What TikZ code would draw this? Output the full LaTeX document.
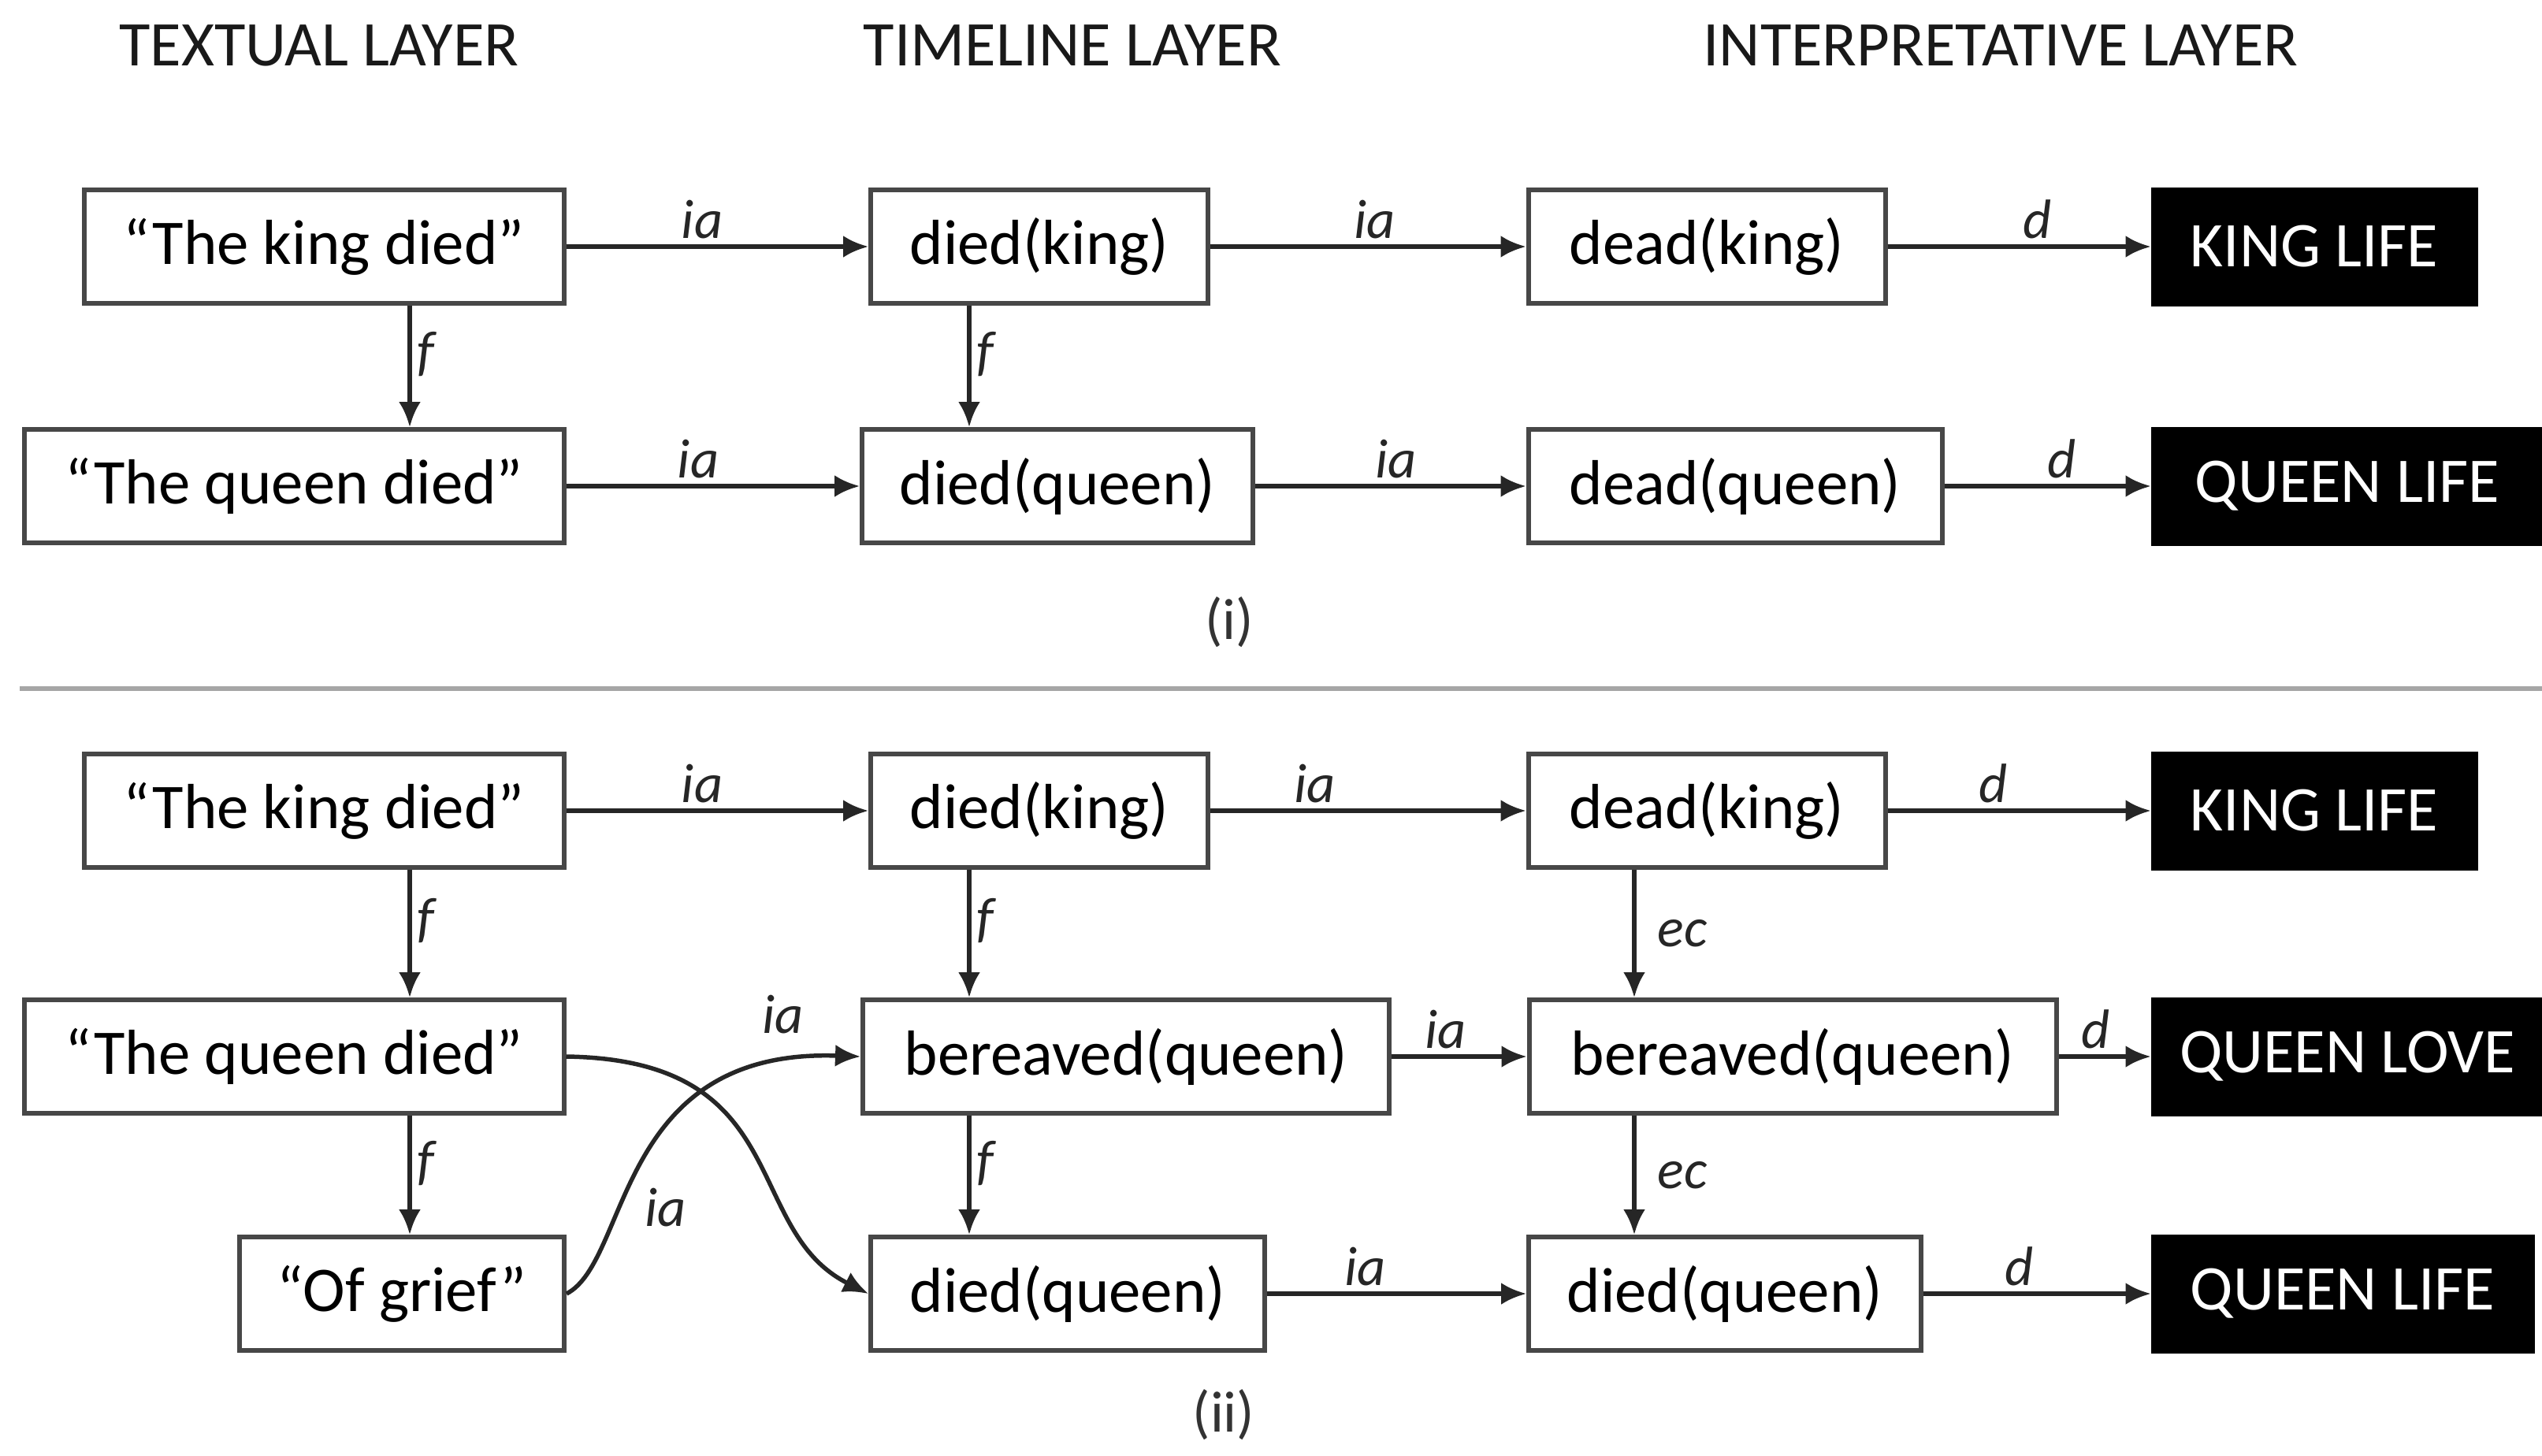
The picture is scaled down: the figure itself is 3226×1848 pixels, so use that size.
\documentclass[tikz,border=0pt]{standalone}
\usepackage{fontspec}
\setmainfont{Carlito}
\usetikzlibrary{arrows.meta}
\newcommand\boxfont{\fontsize{23}{27}\selectfont}
\newcommand\lblfont{\fontsize{20}{24}\selectfont\itshape}
\newcommand\headfont{\fontsize{23}{27}\selectfont}
\newcommand\captfont{\fontsize{21}{25}\selectfont}
\tikzset{
  box/.style={draw=black!72, line width=0.6mm, fill=white, minimum height=14.4mm, inner sep=0pt, font=\boxfont},
  dark/.style={draw=black, fill=black, text=white, line width=0.5mm, minimum height=14.6mm, inner sep=0pt, font=\boxfont},
  arr/.style={-{Latex[length=3.2mm,width=2.8mm]}, line width=0.55mm, draw=black!85},
  lbl/.style={font=\lblfont, inner sep=2pt, text=black!85},
  head/.style={font=\headfont, text=black!90},
  capt/.style={font=\captfont, text=black!80},
}
\begin{document}
\begin{tikzpicture}[x=0.1mm,y=-0.1mm]
\useasboundingbox (0,0) rectangle (3226,1848);
% headings
\node[head] (h1) at (405,58) {TEXTUAL LAYER};
\node[head] (h2) at (1361,58) {TIMELINE LAYER};
\node[head] (h3) at (2539,58) {INTERPRETATIVE LAYER};
% column x for vertical arrows
\coordinate (xa) at (520,0);
\coordinate (xb) at (1230,0);
\coordinate (xc) at (2074,0);
% ---- panel (i)
\node[box, minimum width=60.9mm] (A1) at (411,313) {``The king died''};
\node[box, minimum width=42.8mm] (B1) at (1319,313) {died(king)};
\node[box, minimum width=45.3mm] (C1) at (2166,313) {dead(king)};
\node[dark, minimum width=41.0mm] (D1) at (2937,313) {KING LIFE};
\node[box, minimum width=68.5mm] (A2) at (373,617) {``The queen died''};
\node[box, minimum width=49.6mm] (B2) at (1342,617) {died(queen)};
\node[box, minimum width=52.5mm] (C2) at (2202,617) {dead(queen)};
\node[dark, minimum width=49.4mm] (D2) at (2979,617) {QUEEN LIFE};
\draw[arr] (A1) -- node[lbl, above, pos=.45] (l1) {ia} (B1);
\draw[arr] (B1) -- node[lbl, above, pos=.52] (l2) {ia} (C1);
\draw[arr] (C1) -- node[lbl, above, pos=.57] (l3) {d} (D1);
\draw[arr] (A2) -- node[lbl, above, pos=.45] (l4) {ia} (B2);
\draw[arr] (B2) -- node[lbl, above, pos=.52] (l5) {ia} (C2);
\draw[arr] (C2) -- node[lbl, above, pos=.57] (l6) {d} (D2);
\draw[arr] (A1.south -| xa) -- node[lbl, right, pos=.4] (l7) {f} (A2.north -| xa);
\draw[arr] (B1.south -| xb) -- node[lbl, right, pos=.4] (l8) {f} (B2.north -| xb);
\node[capt] (cap1) at (1560,790) {(i)};
% separator
\draw[line width=0.6mm, black!35] (25,874) coordinate (s1) -- (3226,874) coordinate (s2);
% ---- panel (ii)
\node[box, minimum width=60.9mm] (A3) at (411,1029) {``The king died''};
\node[box, minimum width=42.8mm] (B3) at (1319,1029) {died(king)};
\node[box, minimum width=45.3mm] (C3) at (2166,1029) {dead(king)};
\node[dark, minimum width=41.0mm] (D3) at (2937,1029) {KING LIFE};
\node[box, minimum width=68.5mm] (A4) at (373,1341) {``The queen died''};
\node[box, minimum width=66.8mm] (B4) at (1429,1341) {bereaved(queen)};
\node[box, minimum width=66.9mm] (C4) at (2275,1341) {bereaved(queen)};
\node[dark, minimum width=49.4mm] (D4) at (2979,1341) {QUEEN LOVE};
\node[box, minimum width=41.2mm] (A5) at (510,1642) {``Of grief''};
\node[box, minimum width=50.0mm] (B5) at (1355,1642) {died(queen)};
\node[box, minimum width=49.8mm] (C5) at (2189,1642) {died(queen)};
\node[dark, minimum width=48.2mm] (D5) at (2973,1642) {QUEEN LIFE};
\draw[arr] (A3) -- node[lbl, above, pos=.45] (m1) {ia} (B3);
\draw[arr] (B3) -- node[lbl, above, pos=.33] (m2) {ia} (C3);
\draw[arr] (C3) -- node[lbl, above, pos=.4] (m3) {d} (D3);
\draw[arr] (B4) -- node[lbl, above, pos=.4] (m4) {ia} (C4);
\draw[arr] (C4) -- node[lbl, above, pos=.4] (m5) {d} (D4);
\draw[arr] (B5) -- node[lbl, above, pos=.38] (m6) {ia} (C5);
\draw[arr] (C5) -- node[lbl, above, pos=.42] (m7) {d} (D5);
\draw[arr] (A3.south -| xa) -- node[lbl, right, pos=.4] (m8) {f} (A4.north -| xa);
\draw[arr] (A4.south -| xa) -- node[lbl, right, pos=.4] (m9) {f} (A5.north -| xa);
\draw[arr] (B3.south -| xb) -- node[lbl, right, pos=.4] (m10) {f} (B4.north -| xb);
\draw[arr] (B4.south -| xb) -- node[lbl, right, pos=.4] (m11) {f} (B5.north -| xb);
\draw[arr] (C3.south -| xc) -- node[lbl, right, xshift=2mm] (m12) {ec} (C4.north -| xc);
\draw[arr] (C4.south -| xc) -- node[lbl, right, xshift=2mm] (m13) {ec} (C5.north -| xc);
% crossing curves
\draw[arr] (A4.east) .. controls (1010,1345) and (940,1560) .. (B5.west);
\draw[arr] (A5.east) .. controls (800,1600) and (780,1330) .. (B4.west);
\node[lbl] (m14) at (845,1533) {ia};
\node[lbl] (m15) at (994,1288) {ia};
\node[capt] (cap2) at (1553,1796) {(ii)};
\end{tikzpicture}
\end{document}
